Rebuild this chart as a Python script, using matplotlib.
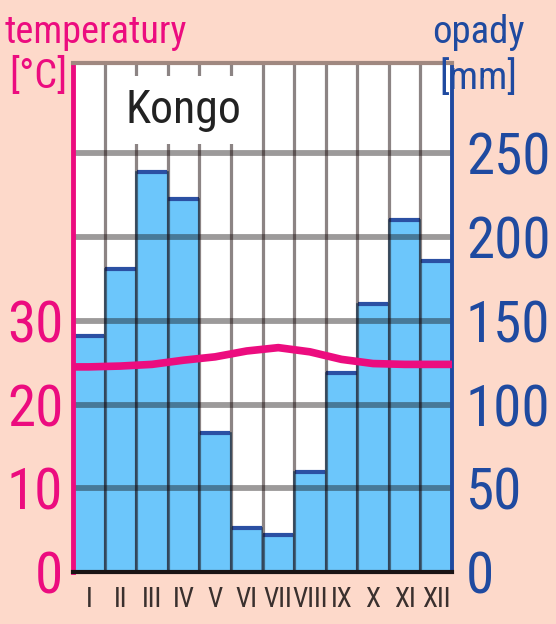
import os
import matplotlib
matplotlib.use('Agg')
import matplotlib.pyplot as plt
from matplotlib import font_manager
from matplotlib.font_manager import FontProperties
import numpy as np

# ---- data ----
months = ['I', 'II', 'III', 'IV', 'V', 'VI', 'VII', 'VIII', 'IX', 'X', 'XI', 'XII']
precip_mm = [141, 181, 239, 223, 83, 26, 22, 60, 119, 160, 210, 186]
temp_c = [24.5, 24.6, 24.8, 25.3, 25.7, 26.4, 26.8, 26.3, 25.4, 24.9, 24.8, 24.8]
temp_ticks = [0, 10, 20, 30]
precip_ticks = [0, 50, 100, 150, 200, 250]
station = 'Kongo'
temp_label = 'temperatury'
temp_unit = '[°C]'
precip_label = 'opady'
precip_unit = '[mm]'


# ---- font: pick a narrow face if one is installed ----
def pick_font():
    bad = ('bold', 'italic', 'oblique', 'light', 'thin', 'medium', 'black',
           'semi', 'extra', 'ultra', 'heavy')
    prefs = ['liberationsansnarrow', 'robotocondensed', 'roboto_condensed',
             'opensanscondensed', 'opensans_condensed', 'notosanscondensed',
             'notosans-condensed', 'dejavusanscondensed', 'condensed', 'narrow']
    cands = []
    for f in font_manager.fontManager.ttflist:
        base = os.path.basename(f.fname).lower()
        if ('narrow' in base or 'condensed' in base) and not any(b in base for b in bad):
            cands.append((base, f.fname))
    for p in prefs:
        for base, path in cands:
            if p in base:
                return FontProperties(fname=path), True
    return FontProperties(family=['Liberation Sans', 'DejaVu Sans']), False


FP, NARROW = pick_font()
S = 1.0 if NARROW else 0.82


def fp(size):
    p = FP.copy()
    p.set_size(size * S)
    return p


BG = '#fdd9ca'
PINK = '#ec0c7f'
BLUE = '#1f4aa0'
W, H = 556, 624

fig = plt.figure(figsize=(W / 100, H / 100), dpi=100, facecolor=BG)
L, R, T, B = 73, 452, 63, 572
ax = fig.add_axes([L / W, 1 - B / H, (R - L) / W, (B - T) / H])
ax.set_facecolor('white')

x = np.arange(len(months))
ax.bar(x, precip_mm, width=1, align='edge', color='#6cc6fb',
       edgecolor='#4a7fa6', linewidth=1.2, zorder=2)
ax.hlines(precip_mm, x + 0.02, x + 0.98, color='#2b50a3', lw=3, zorder=3)

ax.set_xlim(0, len(months))
ymax = 304
ax.set_ylim(0, ymax)

for v in precip_ticks[1:]:
    ax.axhline(v, color='#151010', alpha=0.42, lw=4.2, zorder=4)
for k in range(1, len(months)):
    ax.axvline(k, color='#1a0a0a', alpha=0.5, lw=2.3, zorder=4)

ax.set_xticks(x + 0.5)
ax.set_xticklabels(months, fontproperties=fp(19.5), color='#3a302e')
ax.tick_params(axis='x', length=0, pad=10)
for s in ax.spines.values():
    s.set_visible(False)

ax.text(3.5, 276, station, fontproperties=fp(33), color='#222222',
        ha='center', va='center', zorder=6,
        bbox=dict(facecolor='white', edgecolor='none', pad=9))

ax2 = ax.twinx()
ax2.set_ylim(0, ymax / 5)
xt = np.concatenate([[0], x + 0.5, [len(months)]])
yt = np.concatenate([[temp_c[0]], temp_c, [temp_c[-1]]])
ax2.plot(xt, yt, color=PINK, lw=5.5, solid_joinstyle='round', zorder=5)

# tick sides (twinx resets them, so set after)
ax.yaxis.tick_right()
ax.set_yticks(precip_ticks)
ax.set_yticklabels([str(v) for v in precip_ticks], fontproperties=fp(41), color=BLUE)
ax.tick_params(axis='y', length=0, pad=10)
ax2.yaxis.tick_left()
ax2.set_yticks(temp_ticks)
ax2.set_yticklabels([str(v) for v in temp_ticks], fontproperties=fp(41), color=PINK)
ax2.tick_params(axis='y', length=0, pad=7)

ax2.spines['left'].set_color(PINK)
ax2.spines['left'].set_linewidth(3.5)
ax2.spines['right'].set_color(BLUE)
ax2.spines['right'].set_linewidth(2.8)
ax2.spines['top'].set_color('#a08880')
ax2.spines['top'].set_linewidth(3)
ax2.spines['bottom'].set_color('#1a1414')
ax2.spines['bottom'].set_linewidth(3)

fig.text(5 / W, 1 - 43 / H, temp_label, fontproperties=fp(27.5), color=PINK,
         ha='left', va='baseline')
fig.text(38 / W, 1 - 76 / H, temp_unit, fontproperties=fp(29), color=PINK,
         ha='center', va='center')
fig.text(478 / W, 1 - 43 / H, precip_label, fontproperties=fp(28), color=BLUE,
         ha='center', va='baseline')
fig.text(478 / W, 1 - 78 / H, precip_unit, fontproperties=fp(28), color=BLUE,
         ha='center', va='center')

fig.savefig('out.png', dpi=100, facecolor=BG)
